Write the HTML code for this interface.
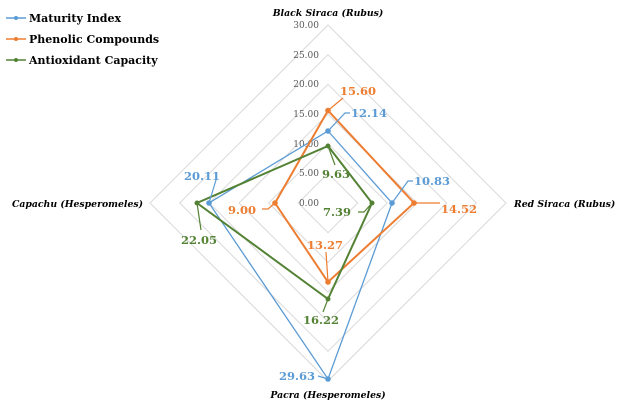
<!DOCTYPE html><html><head><style>body{margin:0;background:#fff}svg{display:block}</style></head><body>
<svg width="626" height="406" xmlns="http://www.w3.org/2000/svg" font-family="DejaVu Serif, serif">
<g fill="none" stroke="#d9d9d9" stroke-width="1">
<polygon points="328,173.3 357.7,203 328,232.7 298.3,203"/>
<polygon points="328,143.7 387.3,203 328,262.3 268.7,203"/>
<polygon points="328,114 417,203 328,292 239,203"/>
<polygon points="328,84.3 446.7,203 328,321.7 209.3,203"/>
<polygon points="328,54.7 476.3,203 328,351.3 179.7,203"/>
<polygon points="328,25 506,203 328,381 150,203"/>
</g>
<g font-size="9" fill="#595959" text-anchor="end" font-family="DejaVu Serif, serif">
<text x="319" y="206">0.00</text><text x="319" y="176">5.00</text><text x="319" y="147">10.00</text><text x="319" y="117">15.00</text><text x="319" y="87">20.00</text><text x="319" y="58">25.00</text><text x="319" y="28">30.00</text>
</g>
<g font-weight="bold" font-style="italic" font-size="9.3" fill="#000">
<text x="328" y="16" text-anchor="middle">Black Siraca (Rubus)</text>
<text x="514" y="207">Red Siraca (Rubus)</text>
<text x="143" y="207" text-anchor="end">Capachu (Hesperomeles)</text>
<text x="328" y="398" text-anchor="middle">Pacra (Hesperomeles)</text>
</g>
<g stroke-width="1.3" fill="none">
<polygon points="328,131 392,203 328,379 209,203" stroke="#5b9bd5"/>
<polygon points="328,110.5 414,203 328,282 275,203" stroke="#ed7d31" stroke-width="2"/>
<polygon points="328,146 372,203 328,299 197,203" stroke="#548235" stroke-width="2"/>
</g>
<g fill="#5b9bd5"><circle cx="328" cy="131" r="2.8"/><circle cx="392" cy="203" r="2.8"/><circle cx="328" cy="379" r="2.8"/><circle cx="209" cy="203" r="2.8"/></g>
<g fill="#ed7d31"><circle cx="328" cy="110.5" r="2.8"/><circle cx="414" cy="203" r="2.8"/><circle cx="328" cy="282" r="2.8"/><circle cx="275" cy="203" r="2.8"/></g>
<g fill="#548235"><circle cx="328" cy="146" r="2.5"/><circle cx="372" cy="203" r="2.5"/><circle cx="328" cy="299" r="2.5"/><circle cx="197" cy="203" r="2.5"/></g>
<g fill="none" stroke-width="1.2">
<path d="M328,110.5 L343,98" stroke="#ed7d31"/>
<path d="M328,131 L345,113 L350,113" stroke="#5b9bd5"/>
<path d="M328,146 L335,165" stroke="#548235"/>
<path d="M372,203 L364,212 L358,212" stroke="#548235"/>
<path d="M392,203 L408,181 L413,181" stroke="#5b9bd5"/>
<path d="M414,203 L440,203" stroke="#ed7d31"/>
<path d="M328,282 L326,252" stroke="#ed7d31"/>
<path d="M328,299 L323,312" stroke="#548235"/>
<path d="M275,203 L268,209 L262,209" stroke="#ed7d31"/>
<path d="M209,203 L216,180" stroke="#5b9bd5"/>
<path d="M197,203 L201,230" stroke="#548235"/>
<path d="M328,379 L318,376" stroke="#5b9bd5"/>
</g>
<g font-weight="bold" font-size="11.5">
<text x="340" y="95" fill="#ed7d31">15.60</text>
<text x="351" y="117" fill="#5b9bd5">12.14</text>
<text x="322" y="178" fill="#548235">9.63</text>
<text x="323" y="216" fill="#548235">7.39</text>
<text x="414" y="185" fill="#5b9bd5">10.83</text>
<text x="441" y="213" fill="#ed7d31">14.52</text>
<text x="307" y="249" fill="#ed7d31">13.27</text>
<text x="303" y="324" fill="#548235">16.22</text>
<text x="228" y="214" fill="#ed7d31">9.00</text>
<text x="184" y="180" fill="#5b9bd5">20.11</text>
<text x="181" y="244" fill="#548235">22.05</text>
<text x="279" y="380" fill="#5b9bd5">29.63</text>
</g>
<g stroke-width="1.5">
<line x1="6" y1="18" x2="26" y2="18" stroke="#5b9bd5"/><circle cx="16" cy="18" r="2" fill="#5b9bd5"/>
<line x1="6" y1="39" x2="26" y2="39" stroke="#ed7d31"/><circle cx="16" cy="39" r="2" fill="#ed7d31"/>
<line x1="6" y1="60" x2="26" y2="60" stroke="#548235"/><circle cx="16" cy="60" r="2" fill="#548235"/>
</g>
<g font-weight="bold" font-size="11" fill="#000">
<text x="29" y="22">Maturity Index</text>
<text x="29" y="43">Phenolic Compounds</text>
<text x="29" y="64">Antioxidant Capacity</text>
</g>
</svg>
</body></html>
